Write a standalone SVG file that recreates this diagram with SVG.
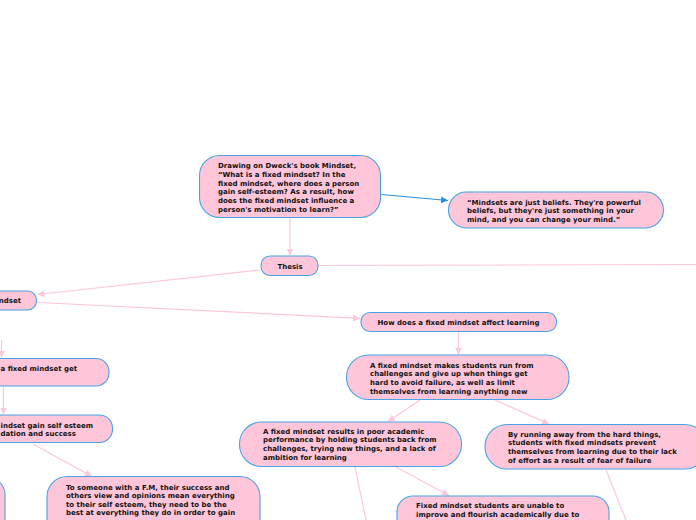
<svg xmlns="http://www.w3.org/2000/svg" width="696" height="520" viewBox="0 0 696 520">
<defs>
<marker id="ap" viewBox="0 0 10 10" refX="10" refY="5" markerWidth="7" markerHeight="7" markerUnits="userSpaceOnUse" orient="auto"><path d="M0,0 L10,5 L0,10 z" fill="#fcc6de"/></marker>
<marker id="ab" viewBox="0 0 10 10" refX="10" refY="5" markerWidth="7" markerHeight="7" markerUnits="userSpaceOnUse" orient="auto"><path d="M0,0 L10,5 L0,10 z" fill="#2a8fdc"/></marker>
<style>
.n{fill:#ffc6d9;stroke:#45a3e6;stroke-width:1.1}
.t{font-family:"DejaVu Sans",Verdana,sans-serif;font-weight:bold;font-size:7px;fill:#111}
.c{fill:none;stroke:#fcc6de;stroke-width:1.2}
.cb{fill:none;stroke:#2a8fdc;stroke-width:1.2}
</style>
</defs>
<rect width="696" height="520" fill="#fff"/>
<g id="connectors">
<line class="cb" x1="381.5" y1="194.5" x2="448" y2="200.5" marker-end="url(#ab)"/>
<line class="c" x1="290" y1="218" x2="290" y2="255.5" marker-end="url(#ap)"/>
<line class="c" x1="319" y1="265.5" x2="696" y2="264.5"/>
<line class="c" x1="260" y1="270" x2="37.5" y2="294.5" marker-end="url(#ap)"/>
<line class="c" x1="38" y1="302.5" x2="360" y2="318.3" marker-end="url(#ap)"/>
<line class="c" x1="458.5" y1="332" x2="458.5" y2="354.5" marker-end="url(#ap)"/>
<line class="c" x1="420" y1="400" x2="388" y2="421.5" marker-end="url(#ap)"/>
<line class="c" x1="495" y1="400" x2="549" y2="424" marker-end="url(#ap)"/>
<line class="c" x1="396" y1="467" x2="449" y2="495.5" marker-end="url(#ap)"/>
<line class="c" x1="355" y1="467" x2="366" y2="520"/>
<line class="c" x1="606" y1="470" x2="626" y2="520"/>
<line class="c" x1="1.5" y1="340" x2="1.5" y2="357.5" marker-end="url(#ap)"/>
<line class="c" x1="3.5" y1="386.5" x2="3.5" y2="414.5" marker-end="url(#ap)"/>
<line class="c" x1="33" y1="444" x2="92" y2="476.5" marker-end="url(#ap)"/>
</g>
<g id="main">
<rect class="n" x="199.5" y="155.5" width="181" height="62" rx="20"/>
<text class="t" x="218"><tspan x="218" y="168">Drawing on Dweck's book Mindset,</tspan><tspan x="218" y="176.8">“What is a fixed mindset? In the</tspan><tspan x="218" y="185.6">fixed mindset, where does a person</tspan><tspan x="218" y="194.4">gain self-esteem? As a result, how</tspan><tspan x="218" y="203.2">does the fixed mindset influence a</tspan><tspan x="218" y="212">person's motivation to learn?”</tspan></text>
</g>
<g id="quote">
<rect class="n" x="448.5" y="192" width="215" height="36" rx="18"/>
<text class="t"><tspan x="467" y="204.5">“Mindsets are just beliefs. They're powerful</tspan><tspan x="467" y="213.3">beliefs, but they're just something in your</tspan><tspan x="467" y="222.1">mind, and you can change your mind.”</tspan></text>
</g>
<g id="thesis">
<rect class="n" x="261" y="256" width="57" height="19.5" rx="9"/>
<text class="t" x="290" y="268.5" text-anchor="middle">Thesis</text>
</g>
<g id="fixed-mindset">
<rect class="n" x="-60" y="291" width="96.5" height="19" rx="9"/>
<text class="t" x="21" y="303" text-anchor="end">ndset</text>
</g>
<g id="how-does">
<rect class="n" x="361" y="312.5" width="195.5" height="19" rx="9"/>
<text class="t" x="458.5" y="324.5" text-anchor="middle">How does a fixed mindset affect learning</text>
</g>
<g id="run-from">
<rect class="n" x="346.5" y="355" width="222.5" height="44.5" rx="22"/>
<text class="t"><tspan x="370" y="367.5">A fixed mindset makes students run from</tspan><tspan x="370" y="376.3">challenges and give up when things get</tspan><tspan x="370" y="385.1">hard to avoid failure, as well as limit</tspan><tspan x="370" y="393.9">themselves from learning anything new</tspan></text>
</g>
<g id="poor-academic">
<rect class="n" x="239.5" y="422" width="222" height="44.5" rx="22"/>
<text class="t"><tspan x="263" y="433.5">A fixed mindset results in poor academic</tspan><tspan x="263" y="442.3">performance by holding students back from</tspan><tspan x="263" y="451.1">challenges, trying new things, and a lack of</tspan><tspan x="263" y="459.9">ambition for learning</tspan></text>
</g>
<g id="running-away">
<rect class="n" x="485" y="424.5" width="222" height="44.5" rx="22"/>
<text class="t"><tspan x="508" y="436.5">By running away from the hard things,</tspan><tspan x="508" y="445.3">students with fixed mindsets prevent</tspan><tspan x="508" y="454.1">themselves from learning due to their lack</tspan><tspan x="508" y="462.9">of effort as a result of fear of failure</tspan></text>
</g>
<g id="get-self-esteem">
<rect class="n" x="-120" y="358.5" width="229" height="27.5" rx="13"/>
<text class="t" x="0.5" y="370.5">a fixed mindset get</text>
</g>
<g id="gain-self-esteem">
<rect class="n" x="-120" y="415" width="232.5" height="27.5" rx="13"/>
<text class="t"><tspan x="0.5" y="428">indset gain self esteem</tspan><tspan x="0.5" y="436">dation and success</tspan></text>
</g>
<g id="left-bottom">
<rect class="n" x="-200" y="477" width="205" height="80" rx="18"/>
</g>
<g id="someone-fm">
<rect class="n" x="47" y="476.5" width="213" height="70" rx="20"/>
<text class="t"><tspan x="66" y="489.5">To someone with a F.M, their success and</tspan><tspan x="66" y="498">others view and opinions mean everything</tspan><tspan x="66" y="506.5">to their self esteem, they need to be the</tspan><tspan x="66" y="515">best at everything they do in order to gain</tspan></text>
</g>
<g id="unable-improve">
<rect class="n" x="397" y="496" width="212" height="50" rx="16"/>
<text class="t"><tspan x="416" y="508">Fixed mindset students are unable to</tspan><tspan x="416" y="516.5">improve and flourish academically due to</tspan></text>
</g>
</svg>
